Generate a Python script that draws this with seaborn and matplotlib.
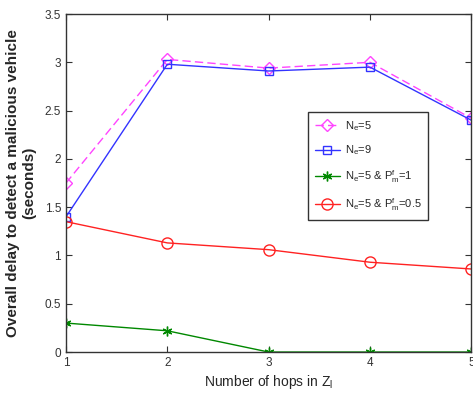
import matplotlib
matplotlib.use("Agg")
import matplotlib.pyplot as plt
import seaborn as sns
import pandas as pd

sns.set_style("white")
plt.rcParams['font.family'] = ['Liberation Sans', 'DejaVu Sans']
plt.rcParams['mathtext.fontset'] = 'custom'
plt.rcParams['mathtext.rm'] = 'Liberation Sans'
plt.rcParams['mathtext.it'] = 'Liberation Sans'

hops = [1, 2, 3, 4, 5]
ne5 = [1.75, 3.03, 2.94, 3.00, 2.42]
ne9 = [1.40, 2.98, 2.91, 2.95, 2.40]
ne5_pm1 = [0.30, 0.22, 0.0, 0.0, 0.0]
ne5_pm05 = [1.35, 1.13, 1.06, 0.93, 0.86]

labels = ["N$_e$=5", "N$_e$=9", "N$_e$=5 & P$^f_m$=1", "N$_e$=5 & P$^f_m$=0.5"]
series = [ne5, ne9, ne5_pm1, ne5_pm05]
colors = ["#ff44ff", "#3333ff", "#008800", "#ff2222"]
markers = ["D", "s", (6, 2, 0), "o"]
styles = ["--", "-", "-", "-"]
msizes = [6, 6, 7, 8]

rows = []
for lab, vals in zip(labels, series):
    for h, v in zip(hops, vals):
        rows.append({"hops": h, "delay": v, "series": lab})
df = pd.DataFrame(rows)

fig = plt.figure(figsize=(4.73, 3.96), dpi=100)
ax = fig.add_axes([0.1395, 0.111, 0.857, 0.8536])

for lab, c, m, ls, ms in zip(labels, colors, markers, styles, msizes):
    sub = df[df.series == lab]
    sns.lineplot(data=sub, x="hops", y="delay", ax=ax, color=c,
                 marker=m, markersize=ms, markerfacecolor="none",
                 markeredgecolor=c, markeredgewidth=1.0, linewidth=1.0,
                 label=lab)
    ax.lines[-1].set_linestyle(ls)
    if ls == "--":
        ax.lines[-1].set_dashes([6, 3])

ax.set_xlim(1, 5)
ax.set_ylim(0, 3.5)
ax.set_xticks([1, 2, 3, 4, 5])
ax.set_yticks([0, 0.5, 1, 1.5, 2, 2.5, 3, 3.5])
ax.set_yticklabels(["0", "0.5", "1", "1.5", "2", "2.5", "3", "3.5"])
ax.tick_params(direction="in", length=4, labelsize=8.5, colors="#333333",
               top=True, right=True, bottom=True, left=True)
for sp in ax.spines.values():
    sp.set_color("#333333")
    sp.set_linewidth(1.0)

ax.set_xlabel("Number of hops in Z$_l$", fontsize=10, labelpad=3)
ax.set_ylabel("Overall delay to detect a malicious vehicle\n(seconds)",
              fontsize=11, fontweight="bold", labelpad=6)

leg = ax.legend(loc="upper left", bbox_to_anchor=(0.597, 0.71), fontsize=8,
                frameon=True, fancybox=False, edgecolor="black",
                handlelength=2.3, handletextpad=0.4, labelspacing=1.0,
                borderpad=0.6, borderaxespad=0)
leg.get_frame().set_linewidth(1.0)

fig.savefig("out.png", dpi=100)
